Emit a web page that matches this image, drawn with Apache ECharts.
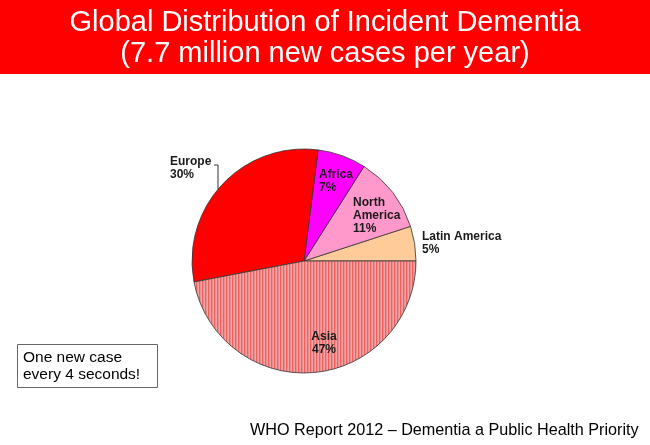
<!DOCTYPE html>
<html>
<head>
<meta charset="utf-8">
<script src="https://cdn.jsdelivr.net/npm/echarts@6/dist/echarts.min.js"></script>
<style>
html,body{margin:0;padding:0;background:#fff;}
#chart{width:650px;height:445px;}
</style>
</head>
<body>
<div id="chart"></div>
<script>
// Data
var regions = ['Latin America', 'North America', 'Africa', 'Europe', 'Asia'];
var shares = [5, 11, 7, 30, 47];
var labelTexts = ['Latin America\n5%', 'North\nAmerica\n11%', 'Africa\n7%', 'Europe\n30%', 'Asia\n47%'];
var titleLines = ['Global Distribution of Incident Dementia', '(7.7 million new cases per year)'];
var noteLines = ['One new case', 'every 4 seconds!'];
var sourceText = 'WHO Report 2012 \u2013 Dementia a Public Health Priority';

// styles
var sliceColors = ['#FFCC99', '#FF99CC', '#FF00FF', '#FF0000', null];
var labelPos = [
  {x: 422, y: 230, align: 'left'},
  {x: 353, y: 196, align: 'left'},
  {x: 319, y: 168, align: 'left'},
  {x: 170, y: 155, align: 'left'},
  {x: 324, y: 330, align: 'center'}
];

var pc = document.createElement('canvas');
pc.width = 3; pc.height = 4;
var g = pc.getContext('2d');
g.fillStyle = '#F4A4A4'; g.fillRect(0, 0, 1, 4);
g.fillStyle = '#F06060'; g.fillRect(1, 0, 1, 4);
g.fillStyle = '#E99090'; g.fillRect(2, 0, 1, 4);
var asiaPattern = {image: pc, repeat: 'repeat'};

var chart = echarts.init(document.getElementById('chart'), null, {renderer: 'canvas'});

var data = regions.map(function (r, i) {
  var item = {
    name: r,
    value: shares[i],
    itemStyle: {color: sliceColors[i] || asiaPattern},
    label: {formatter: labelTexts[i]}
  };
  if (r === 'Europe') {
    item.labelLine = {show: true};
  }
  return item;
});

var FONT = '"Liberation Sans", Arial, sans-serif';

chart.setOption({
  backgroundColor: '#ffffff',
  animation: false,
  graphic: [
    {type: 'rect', left: 0, top: 0, shape: {width: 650, height: 74}, style: {fill: '#FF0000'}, z: 0},
    {type: 'text', left: 'center', top: 8, style: {text: titleLines[0], fill: '#ffffff', font: '29px ' + FONT}},
    {type: 'text', left: 'center', top: 39, style: {text: titleLines[1], fill: '#ffffff', font: '29px ' + FONT}},
    {type: 'rect', left: 17, top: 344, shape: {width: 140, height: 43}, style: {fill: '#ffffff', stroke: '#666666', lineWidth: 1}},
    {type: 'text', left: 23, top: 349, style: {text: noteLines.join('\n'), fill: '#000000', font: '15.5px ' + FONT, lineHeight: 17}},
    {type: 'text', left: 250, top: 423, style: {text: sourceText, fill: '#000000', font: '16.2px ' + FONT}}
  ],
  series: [{
    type: 'pie',
    center: [304, 261],
    radius: 112,
    startAngle: 0,
    clockwise: false,
    silent: true,
    itemStyle: {borderColor: '#333333', borderWidth: 0.8},
    label: {
      show: true,
      position: 'outside',
      fontFamily: FONT,
      fontWeight: 'bold',
      fontSize: 12,
      lineHeight: 13,
      color: '#1a1a1a'
    },
    labelLine: {show: false, lineStyle: {color: '#333333', width: 1}, length: 8, length2: 4},
    labelLayout: function (params) {
      var p = labelPos[params.dataIndex];
      var res = {x: p.x, y: p.y, align: p.align, verticalAlign: 'top'};
      if (params.dataIndex === 3) {
        res.labelLinePoints = [[218, 189], [218, 165], [214, 165]];
      }
      return res;
    },
    data: data
  }]
});
</script>
</body>
</html>
